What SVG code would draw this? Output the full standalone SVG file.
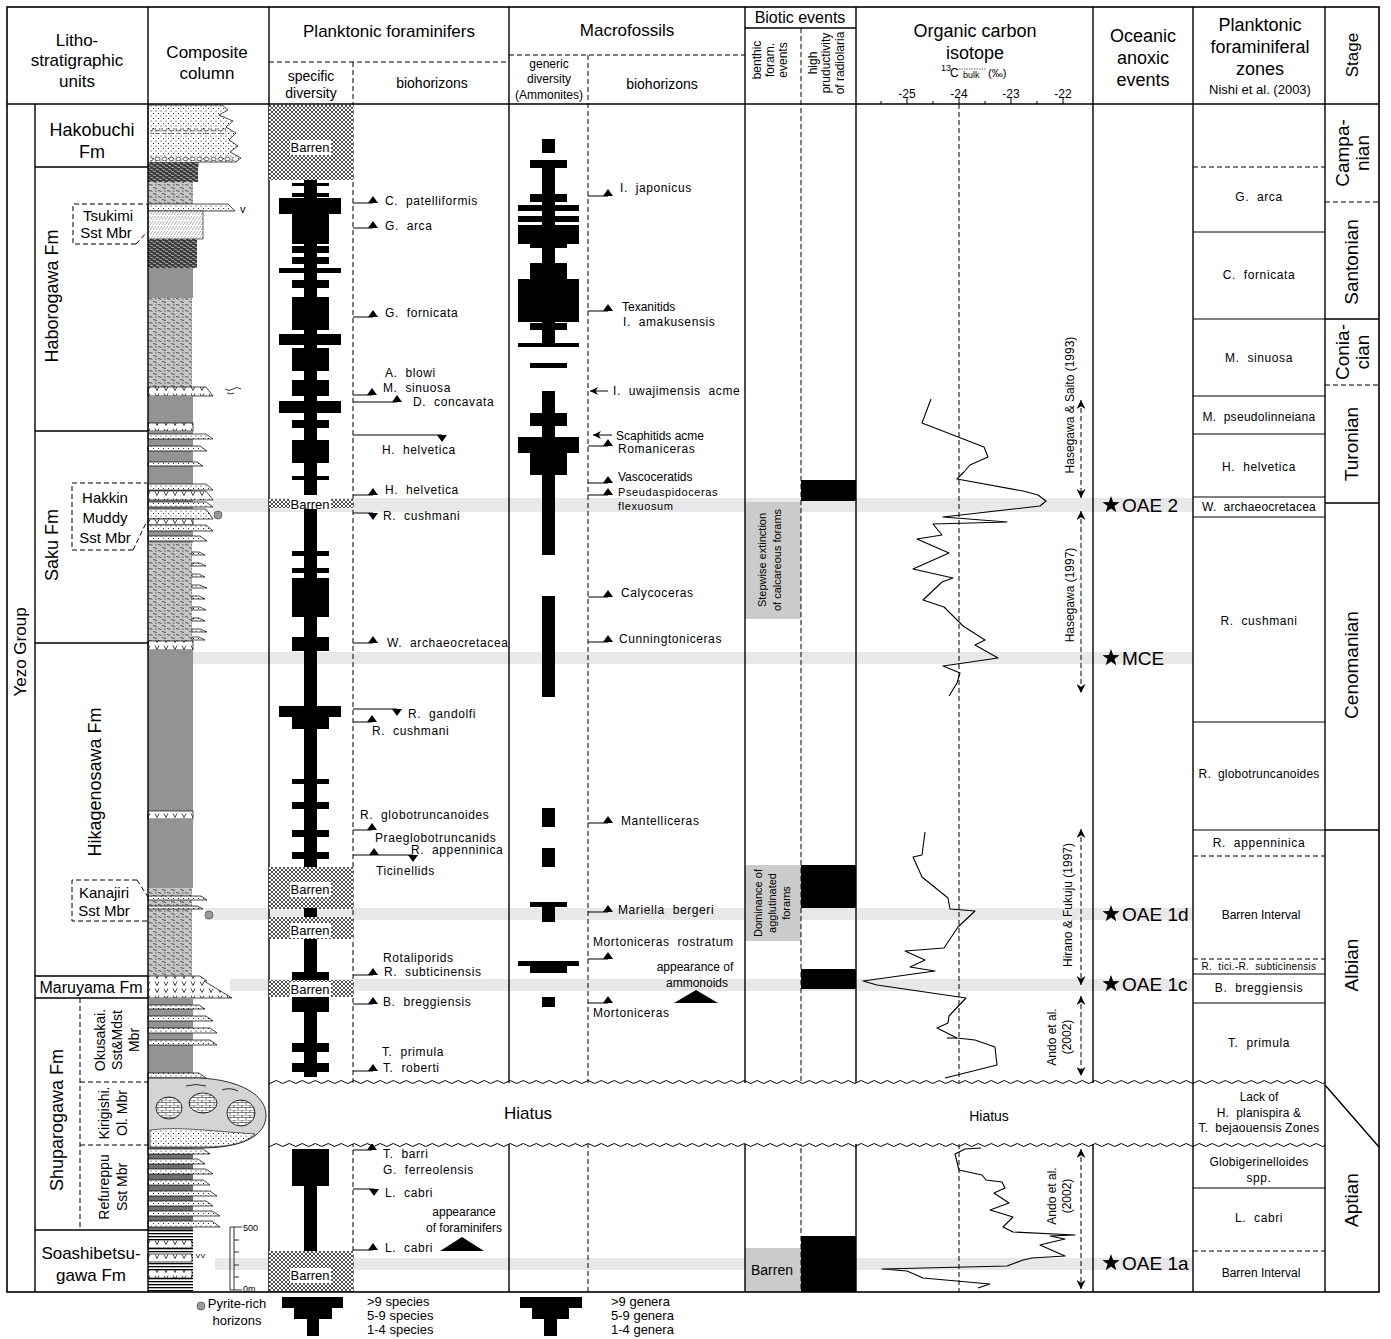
<svg xmlns="http://www.w3.org/2000/svg" width="1391" height="1339" viewBox="0 0 1391 1339" font-family="'Liberation Sans', Arial, sans-serif">
<style>
text{fill:#000;white-space:pre}
.h17{font-size:17px}.h18{font-size:18px}.h16{font-size:16px}.h14{font-size:14px}.h13{font-size:13px}.h12{font-size:12px}.h11{font-size:11px}.h19{font-size:19px}.h9{font-size:9px}
.m{text-anchor:middle}
.bh{font-size:12px;letter-spacing:0.6px}
.ln{stroke:#000;stroke-width:1.4;fill:none}
.thin{stroke:#000;stroke-width:1;fill:none}
.ds{stroke:#000;stroke-width:1;fill:none;stroke-dasharray:5 3}
.gr{fill:#939393}
.sm{fill:url(#sm)}
.dk{fill:url(#dk)}
.tg{fill:url(#dots);stroke:#000;stroke-width:0.7}
.tfp{fill:url(#tf);stroke:#000;stroke-width:0.7}
.band{fill:#e8e8e8}
.bar{fill:#000}
.xh{fill:url(#xh)}
.cv{fill:none;stroke:#000;stroke-width:1.1;stroke-linejoin:round}
.mk{stroke:#000;stroke-width:1;fill:none}
</style>
<defs>
<pattern id="dots" width="5" height="5" patternUnits="userSpaceOnUse"><rect width="5" height="5" fill="#fff"/><circle cx="1" cy="1" r="0.55" fill="#000"/><circle cx="3.5" cy="3.5" r="0.55" fill="#000"/></pattern>
<pattern id="sm" width="9" height="6" patternUnits="userSpaceOnUse"><rect width="9" height="6" fill="#c6c6c6"/><path d="M0,1.5 l4,1 M5,4.5 l3.5,0.8 M2,4.8 l1.5,0.4" stroke="#222" stroke-width="0.7"/></pattern>
<pattern id="dk" width="6" height="4" patternUnits="userSpaceOnUse"><rect width="6" height="4" fill="#3d3d3d"/><path d="M0,1 l3,1 M3,3 l3,0.8" stroke="#fff" stroke-width="0.6"/></pattern>
<pattern id="ls" width="6" height="5" patternUnits="userSpaceOnUse"><rect width="6" height="5" fill="#fff"/><path d="M0,5 l3,-4 M3,5 l3,-4" stroke="#555" stroke-width="0.5"/></pattern>
<pattern id="tf" width="9" height="7" patternUnits="userSpaceOnUse"><rect width="9" height="7" fill="#fff"/><path d="M2,1.5 L4,5.5 L6,1.5" fill="none" stroke="#000" stroke-width="0.7"/></pattern>
<pattern id="xh" width="4" height="4" patternUnits="userSpaceOnUse"><rect width="4" height="4" fill="#fff"/><path d="M0,0 L4,4 M4,0 L0,4" stroke="#222" stroke-width="0.8"/></pattern>
<pattern id="cg" width="7" height="6" patternUnits="userSpaceOnUse"><ellipse cx="3.5" cy="3" rx="2.6" ry="1.8" fill="#fff" stroke="#000" stroke-width="0.6"/></pattern>
<pattern id="hl" width="4" height="3" patternUnits="userSpaceOnUse"><rect width="4" height="3" fill="#fff"/><rect width="4" height="1.3" fill="#000"/></pattern>
<pattern id="brick" width="8" height="5" patternUnits="userSpaceOnUse"><rect width="8" height="5" fill="#fff"/><path d="M0,0 H8 M0,2.5 H8 M2,0 V2.5 M6,2.5 V5" stroke="#000" stroke-width="0.5"/></pattern>
<pattern id="wave" width="13" height="6" patternUnits="userSpaceOnUse"><path d="M0,3 Q3.25,0 6.5,3 T13,3" fill="none" stroke="#000" stroke-width="1"/></pattern>
<polygon id="tu" points="-5,0 5,0 0,-7" fill="#000"/>
<polygon id="td" points="-5,0 5,0 0,7" fill="#000"/>
<polygon id="star" points="0,-9 2.12,-2.91 8.56,-2.78 3.42,1.11 5.29,7.28 0,3.6 -5.29,7.28 -3.42,1.11 -8.56,-2.78 -2.12,-2.91" fill="#000"/>
<marker id="arr" viewBox="0 0 10 10" refX="10" refY="5" markerWidth="9" markerHeight="9" markerUnits="userSpaceOnUse" orient="auto-start-reverse"><path d="M0,0 L10,5 L0,10 L3,5 Z" fill="#000"/></marker>
<marker id="arr2" viewBox="0 0 10 10" refX="10" refY="5" markerWidth="8" markerHeight="8" markerUnits="userSpaceOnUse" orient="auto"><path d="M0,0 L10,5 L0,10 L3,5 Z" fill="#000"/></marker>
</defs>
<rect width="1391" height="1339" fill="#fff"/>

<g id="oae-bands">
<rect class="band" x="213" y="498" width="980" height="14"/>
<rect class="band" x="193" y="652" width="1000" height="12"/>
<rect class="band" x="205" y="908" width="988" height="12"/>
<rect class="band" x="230" y="979" width="963" height="12"/>
<rect class="band" x="215" y="1258" width="978" height="12"/>
</g>

<g id="composite-column">
<path class="tg" d="M148,105 H222 L228,110 L219,115 L233,121 L226,127 L236,133 L229,140 L238,146 L230,152 L241,158 L236,162 H198 V167 H148 Z"/>
<rect x="150" y="128" width="76" height="6" fill="url(#cg)"/>
<rect x="150" y="155" width="84" height="6" fill="url(#cg)"/>
<rect class="dk" x="148" y="162" width="50" height="20"/>
<rect class="sm" x="148" y="182" width="45" height="22"/>
<path class="tg" d="M148,204 H228 L235,211 H148 Z"/>
<text x="240" y="213" class="h11">v</text>
<rect x="148" y="211" width="55" height="28" fill="url(#ls)" stroke="#000" stroke-width="0.6"/>
<rect class="dk" x="148" y="239" width="49" height="29"/>
<rect class="gr" x="148" y="268" width="45" height="30"/>
<rect class="sm" x="148" y="298" width="44" height="89"/>
<path class="tfp" d="M148,387 H206 L213,396 H148 Z"/>
<path d="M225,389 q4,3 8,0 q4,-3 8,0 M227,393 q4,2 7,0" fill="none" stroke="#000" stroke-width="0.8"/>
<rect class="gr" x="148" y="396" width="45" height="27"/>
<rect class="tfp" x="148" y="423" width="45" height="8"/>
<rect class="gr" x="148" y="431" width="45" height="112"/>
<path class="tg" d="M148,434 H206 L213,439 H148 Z"/>
<path class="tg" d="M148,446 H200 L207,451 H148 Z"/>
<path class="tg" d="M148,462 H197 L203,466 H148 Z"/>
<path class="tg" d="M148,484 H206 L213,490 H148 Z"/>
<path class="tfp" d="M148,491 H206 L213,500 H148 Z"/>
<path class="tg" d="M148,502 H206 L213,507 H148 Z"/>
<path class="tg" d="M148,509 H206 L213,519 H148 Z"/>
<rect class="tfp" x="148" y="519" width="45" height="6"/>
<path class="tg" d="M148,525 H206 L213,531 H148 Z"/>
<path class="tg" d="M148,536 H200 L207,541 H148 Z"/>
<rect class="sm" x="148" y="543" width="44" height="98"/>
<path class="tg" d="M192,552 H199 L205,555 H192 Z M192,563 H200 L206,566 H192 Z M192,574 H199 L205,577 H192 Z M192,585 H200 L207,588 H192 Z M192,596 H199 L205,599 H192 Z M192,607 H200 L206,610 H192 Z M192,618 H199 L205,621 H192 Z M192,629 H200 L207,632 H192 Z M192,637 H199 L205,640 H192 Z"/>
<rect class="tfp" x="148" y="641" width="45" height="9"/>
<rect class="gr" x="148" y="650" width="45" height="161"/>
<rect class="tfp" x="148" y="811" width="45" height="8"/>
<rect class="gr" x="148" y="819" width="45" height="69"/>
<rect class="sm" x="148" y="888" width="44" height="88"/>
<path class="tg" d="M148,896 H201 L207,900 H148 Z"/>
<path class="tg" d="M148,906 H197 L203,909 H148 Z"/>
<path class="tfp" d="M148,976 H200 L207,981 H204 L232,998 H148 Z"/>
<rect class="gr" x="148" y="998" width="45" height="80"/>
<path class="tg" d="M148,1005 H199 L205,1009 H148 Z"/>
<path class="tg" d="M148,1016 H206 L213,1021 H148 Z"/>
<path class="tg" d="M148,1028 H210 L217,1033 H148 Z"/>
<path class="tg" d="M148,1040 H210 L217,1045 H148 Z"/>
<path class="tg" d="M148,1073 H199 L206,1078 H148 Z"/>
<path d="M148,1078 H200 C240,1080 266,1095 266,1115 C266,1135 245,1147 205,1148 H148 Z" fill="#d4d4d4" stroke="#000" stroke-width="0.8"/>
<path d="M150,1130 C180,1126 220,1132 255,1134 C245,1145 220,1147 205,1147 H150 Z" fill="url(#dots)" stroke="#000" stroke-width="0.6"/>
<ellipse cx="169" cy="1108" rx="13" ry="11" fill="url(#brick)" stroke="#000" stroke-width="0.8"/>
<ellipse cx="203" cy="1103" rx="14" ry="10" fill="url(#brick)" stroke="#000" stroke-width="0.8"/>
<ellipse cx="241" cy="1113" rx="14" ry="13" fill="url(#brick)" stroke="#000" stroke-width="0.8"/>
<path d="M186,1086 q10,-3 20,0 M222,1090 q8,-3 16,1" fill="none" stroke="#000" stroke-width="0.8"/>
<rect x="148" y="1148" width="45" height="82" fill="#6e6e6e"/>
<path class="tg" d="M148,1149 H203 L210,1154 H148 Z M148,1159 H198 L205,1164 H148 Z M148,1169 H206 L213,1174 H148 Z M148,1180 H203 L210,1185 H148 Z M148,1191 H210 L217,1196 H148 Z M148,1201 H206 L213,1206 H148 Z M148,1211 H212 L220,1216 H148 Z M148,1221 H212 L220,1227 H148 Z"/>
<rect x="148" y="1230" width="45" height="62" fill="url(#hl)"/>
<rect class="tfp" x="148" y="1240" width="44" height="8"/>
<rect class="tfp" x="148" y="1254" width="44" height="8"/>
<rect class="tfp" x="148" y="1270" width="44" height="8"/>
<path d="M196,1254 l2,4 l2,-4 M201,1254 l2,4 l2,-4" fill="none" stroke="#000" stroke-width="0.7"/>
<circle cx="218" cy="515" r="4" fill="#999" stroke="#555" stroke-width="0.8"/>
<circle cx="209" cy="915" r="4" fill="#999" stroke="#555" stroke-width="0.8"/>
<path d="M230,1227 V1290 M234,1227 V1290 M230,1227 H242 M234,1240 H239 M234,1252 H239 M234,1265 H239 M234,1277 H239 M230,1290 H242" stroke="#000" fill="none" stroke-width="0.8"/>
<text x="243" y="1231" class="h9">500</text>
<text x="243" y="1292" class="h9">0m</text>
</g>

<g id="biotic-boxes">
<rect x="745" y="502" width="56" height="117" fill="#cbcbcb"/>
<rect x="745" y="865" width="56" height="76" fill="#cbcbcb"/>
<rect x="745" y="1248" width="56" height="44" fill="#cbcbcb"/>
<rect x="801" y="480" width="55" height="21" fill="#000"/>
<rect x="801" y="865" width="55" height="43" fill="#000"/>
<rect x="801" y="969" width="55" height="20" fill="#000"/>
<rect x="801" y="1236" width="55" height="56" fill="#000"/>
<text class="h11 m" transform="translate(766,560) rotate(-90)">Stepwise extinction</text>
<text class="h11 m" transform="translate(781,560) rotate(-90)">of calcareous forams</text>
<text class="h11 m" transform="translate(762,903) rotate(-90)">Dominance of</text>
<text class="h11 m" transform="translate(776,903) rotate(-90)">agglutinated</text>
<text class="h11 m" transform="translate(790,903) rotate(-90)">forams</text>
<text class="h14 m" x="772" y="1275">Barren</text>
</g>

<g id="grid">
<line class="ln" x1="35" y1="104" x2="35" y2="1292"/>
<line class="ln" x1="148" y1="7" x2="148" y2="1292"/>
<line class="ln" x1="269" y1="7" x2="269" y2="1292"/>
<line class="ln" x1="509" y1="7" x2="509" y2="1292"/>
<line class="ln" x1="745" y1="7" x2="745" y2="1292"/>
<line class="ln" x1="856" y1="7" x2="856" y2="1292"/>
<line class="ln" x1="1093" y1="7" x2="1093" y2="1292"/>
<line class="ln" x1="1193" y1="7" x2="1193" y2="1292"/>
<line class="ln" x1="1325" y1="7" x2="1325" y2="1292"/>
<line class="ln" x1="7" y1="104" x2="1379" y2="104"/>
<line class="ds" x1="269" y1="62" x2="509" y2="62"/>
<line class="ds" x1="353" y1="62" x2="353" y2="1292"/>
<line class="ds" x1="509" y1="55" x2="745" y2="55"/>
<line class="ds" x1="588" y1="55" x2="588" y2="1292"/>
<line class="ln" x1="745" y1="28" x2="856" y2="28"/>
<line class="ds" x1="801" y1="28" x2="801" y2="1292"/>
<line class="ds" x1="959" y1="104" x2="959" y2="1292"/>
<path class="ln" d="M35,167 H148 M35,431 H148 M35,643 H148 M35,976 H148 M35,998 H148 M35,1230 H148"/>
<path class="ds" d="M80,998 V1230 M80,1082 H148 M80,1145 H148"/>
<path class="thin" d="M1193,232 H1325 M1193,319 H1325 M1193,396 H1325 M1193,434 H1325 M1193,497 H1325 M1193,517 H1325 M1193,722 H1325 M1193,830 H1325 M1193,974 H1325 M1193,1003 H1325 M1193,1188 H1325"/>
<path class="ds" d="M1193,167 H1325 M1193,856 H1325 M1193,959 H1325 M1193,1251 H1325"/>
<path class="ln" d="M1325,319 H1379 M1325,503 H1379 M1325,830 H1379 M1325,1085 L1379,1147"/>
<path class="ds" d="M1325,202 H1379 M1325,385 H1379"/>
<path class="thin" d="M881,104 v-3 M907,104 v-6 M933,104 v-3 M959,104 v-7 M985,104 v-3 M1011,104 v-6 M1037,104 v-3 M1063,104 v-6"/>
<path class="ds" d="M136,244 L147,232 M136,244 H73 V204 H147 M133,550 L147,521 M133,550 H72 V483 H147 M137,880 L148,897 M137,880 H72 V921 H147"/>
</g>

<g id="foram-diversity">
<rect class="xh" x="269" y="105" width="84" height="75"/>
<rect class="xh" x="269" y="499" width="84" height="9"/>
<rect class="xh" x="269" y="867" width="84" height="42"/>
<rect class="xh" x="269" y="917" width="84" height="22"/>
<rect class="xh" x="269" y="980" width="84" height="17"/>
<rect class="xh" x="269" y="1251" width="84" height="41"/>
<rect fill="#fff" x="290" y="140" width="41" height="15"/>
<rect fill="#fff" x="290" y="498" width="41" height="12"/>
<rect fill="#fff" x="290" y="882" width="41" height="15"/>
<rect fill="#fff" x="290" y="923" width="41" height="15"/>
<rect fill="#fff" x="290" y="982" width="41" height="15"/>
<rect fill="#fff" x="290" y="1268" width="41" height="15"/>
<text class="h13 m" x="310" y="152">Barren</text>
<text class="h13 m" x="310" y="509">Barren</text>
<text class="h13 m" x="310" y="894">Barren</text>
<text class="h13 m" x="310" y="935">Barren</text>
<text class="h13 m" x="310" y="994">Barren</text>
<text class="h13 m" x="310" y="1280">Barren</text>
<g class="bar">
<rect x="304" y="180" width="13" height="315"/><rect x="304" y="509" width="13" height="358"/><rect x="304" y="908" width="13" height="9"/><rect x="304" y="939" width="13" height="33"/><rect x="304" y="997" width="13" height="80"/><rect x="304" y="1186" width="13" height="65"/>
<rect x="292" y="183" width="37" height="3"/><rect x="292" y="193" width="37" height="4"/><rect x="292" y="214" width="37" height="30"/><rect x="292" y="246" width="37" height="7"/><rect x="292" y="257" width="37" height="7"/><rect x="292" y="280" width="37" height="8"/><rect x="292" y="297" width="37" height="33"/><rect x="292" y="348" width="37" height="23"/><rect x="292" y="380" width="37" height="16"/><rect x="292" y="420" width="37" height="8"/><rect x="292" y="440" width="37" height="23"/><rect x="292" y="476" width="37" height="4"/><rect x="292" y="551" width="37" height="5"/><rect x="292" y="568" width="37" height="5"/><rect x="292" y="578" width="37" height="39"/><rect x="292" y="637" width="37" height="14"/><rect x="292" y="717" width="37" height="12"/><rect x="292" y="779" width="37" height="5"/><rect x="292" y="802" width="37" height="7"/><rect x="292" y="830" width="37" height="7"/><rect x="292" y="852" width="37" height="7"/><rect x="292" y="972" width="37" height="8"/><rect x="292" y="997" width="37" height="15"/><rect x="292" y="1043" width="37" height="9"/><rect x="292" y="1063" width="37" height="9"/><rect x="292" y="1149" width="37" height="37"/>
<rect x="279" y="198" width="62" height="16"/><rect x="279" y="268" width="62" height="5"/><rect x="279" y="334" width="62" height="11"/><rect x="279" y="401" width="62" height="12"/><rect x="279" y="706" width="62" height="11"/>
</g>
</g>

<g id="macro-diversity" class="bar">
<rect x="542" y="139" width="13" height="14"/><rect x="542" y="160" width="13" height="183"/><rect x="542" y="391" width="13" height="164"/><rect x="542" y="596" width="13" height="101"/><rect x="542" y="808" width="13" height="19"/><rect x="542" y="848" width="13" height="19"/><rect x="542" y="907" width="13" height="15"/><rect x="542" y="997" width="13" height="10"/>
<rect x="530" y="160" width="37" height="8"/><rect x="530" y="194" width="37" height="8"/><rect x="530" y="244" width="37" height="4"/><rect x="530" y="263" width="37" height="16"/><rect x="530" y="323" width="37" height="7"/><rect x="530" y="363" width="37" height="5"/><rect x="530" y="413" width="37" height="13"/><rect x="530" y="453" width="37" height="22"/><rect x="530" y="902" width="37" height="5"/><rect x="530" y="966" width="37" height="7"/>
<rect x="518" y="205" width="61" height="6"/><rect x="518" y="216" width="61" height="6"/><rect x="518" y="225" width="61" height="19"/><rect x="518" y="279" width="61" height="43"/><rect x="518" y="343" width="61" height="4"/><rect x="518" y="437" width="61" height="16"/><rect x="518" y="961" width="61" height="5"/>
</g>

<g id="isotope-curve">
<polyline class="cv" points="931,399 922,423 984,447 988,457 970,465 964,472 957,479 1023,491 1038,495 1046,501 1040,506 943,517 1007,522 933,524 942,535 917,539 949,553 913,569 953,578 942,582 923,600 944,607 963,626 985,640 975,645 998,658 943,666 960,673 957,683 949,696"/>
<polyline class="cv" points="925,832 922,855 913,857 922,877 948,898 950,909 975,911 958,927 944,948 905,951 925,960 910,967 935,971 863,981 877,985 966,998 949,1016 948,1023 937,1028 957,1038 975,1040 995,1047 997,1065 945,1078"/>
<line class="cv" x1="947" y1="1038" x2="957" y2="1038"/>
<polyline class="cv" points="981,1148 965,1149 955,1154 959,1170 982,1175 986,1180 1002,1182 1005,1188 994,1193 1009,1203 990,1210 1013,1217 1003,1227 1013,1232 1075,1235 1050,1236 1065,1239 1048,1243 1040,1245 1065,1256 1032,1258 1023,1260 1007,1266 882,1269 907,1271 923,1278 990,1284 978,1288"/>
</g>

<g id="connectors">
<g class="mk">
<path d="M353,203 H373 M353,228 H373 M353,317 H373 M353,395 H372 M353,402 H397 M353,435 H442 M353,495 H373 M353,513 H373 M353,643 H373 M353,709 H397 M353,722 H372 M353,830 H372 M353,855 H413 M353,975 H373 M353,1004 H373 M353,1071 H373 M353,1150 H372 M353,1189 H374 M353,1250 H373"/>
<path d="M588,196 H608 M588,311 H608 M588,446 H608 M588,483 H608 M588,495 H608 M588,597 H608 M588,642 H608 M588,823 H608 M588,912 H608 M588,959 H608 M588,1003 H608"/>
</g>
<use href="#tu" x="373" y="203"/><use href="#tu" x="373" y="228"/><use href="#tu" x="373" y="317"/><use href="#tu" x="372" y="395"/><use href="#tu" x="397" y="402"/><use href="#td" x="442" y="435"/><use href="#tu" x="373" y="495"/><use href="#td" x="373" y="513"/><use href="#tu" x="373" y="643"/><use href="#td" x="397" y="709"/><use href="#tu" x="372" y="722"/><use href="#tu" x="372" y="830"/><use href="#tu" x="374" y="855"/><use href="#td" x="413" y="855"/><use href="#tu" x="373" y="975"/><use href="#tu" x="373" y="1004"/><use href="#tu" x="373" y="1071"/><use href="#tu" x="372" y="1150"/><use href="#td" x="374" y="1189"/><use href="#tu" x="373" y="1250"/>
<use href="#tu" x="608" y="196"/><use href="#tu" x="608" y="311"/><use href="#tu" x="608" y="446"/><use href="#tu" x="608" y="483"/><use href="#tu" x="608" y="495"/><use href="#tu" x="608" y="597"/><use href="#tu" x="608" y="642"/><use href="#tu" x="608" y="823"/><use href="#tu" x="608" y="912"/><use href="#tu" x="608" y="959"/><use href="#tu" x="608" y="1003"/>
<polygon points="440,1251 484,1251 462,1237" fill="#000"/>
<polygon points="674,1003 718,1003 696,990" fill="#000"/>
<line class="mk" x1="608" y1="391" x2="590" y2="391" marker-end="url(#arr2)"/>
<line class="mk" x1="612" y1="435" x2="593" y2="435" marker-end="url(#arr2)"/>
<g class="ds">
<line x1="1081" y1="400" x2="1081" y2="498" marker-start="url(#arr)" marker-end="url(#arr)"/>
<line x1="1081" y1="511" x2="1081" y2="693" marker-start="url(#arr)" marker-end="url(#arr)"/>
<line x1="1081" y1="829" x2="1081" y2="985" marker-start="url(#arr)" marker-end="url(#arr)"/>
<line x1="1081" y1="996" x2="1081" y2="1076" marker-start="url(#arr)" marker-end="url(#arr)"/>
<line x1="1081" y1="1149" x2="1081" y2="1289" marker-start="url(#arr)" marker-end="url(#arr)"/>
</g>
</g>

<g id="hiatus">
<rect x="270" y="1083" width="922" height="61" fill="#fff"/>
<g transform="translate(0,1079)"><rect x="269" y="0" width="1056" height="6" fill="url(#wave)"/></g>
<g transform="translate(0,1142)"><rect x="269" y="0" width="1056" height="6" fill="url(#wave)"/></g>
<text class="h17 m" x="528" y="1119">Hiatus</text>
<text class="h14 m" x="989" y="1121">Hiatus</text>
</g>

<g id="outer-frame">
<rect x="7" y="7" width="1372" height="1285" fill="none" stroke="#000" stroke-width="1.6"/>
</g>

<g id="header">
<text class="h17 m" x="77" y="46">Litho-</text>
<text class="h17 m" x="77" y="66">stratigraphic</text>
<text class="h17 m" x="77" y="87">units</text>
<text class="h17 m" x="207" y="58">Composite</text>
<text class="h17 m" x="207" y="79">column</text>
<text class="h17 m" x="389" y="37">Planktonic foraminifers</text>
<text class="h14 m" x="311" y="81">specific</text>
<text class="h14 m" x="311" y="98">diversity</text>
<text class="h14 m" x="432" y="88">biohorizons</text>
<text class="h17 m" x="627" y="36">Macrofossils</text>
<text class="h12 m" x="549" y="68">generic</text>
<text class="h12 m" x="549" y="83">diversity</text>
<text class="h12 m" x="549" y="99">(Ammonites)</text>
<text class="h14 m" x="662" y="89">biohorizons</text>
<text class="h16 m" x="800" y="23">Biotic events</text>
<text class="h12 m" transform="translate(761,60) rotate(-90)">benthic</text>
<text class="h12 m" transform="translate(774,60) rotate(-90)">foram.</text>
<text class="h12 m" transform="translate(787,60) rotate(-90)">events</text>
<text class="h12 m" transform="translate(817,63) rotate(-90)">high</text>
<text class="h12 m" transform="translate(830,63) rotate(-90)">pruductivity</text>
<text class="h12 m" transform="translate(844,63) rotate(-90)">of radiolaria</text>
<text class="h18 m" x="975" y="37">Organic carbon</text>
<text class="h18 m" x="975" y="59">isotope</text>
<text class="h9" x="941" y="71">13</text>
<text class="h12" x="950" y="77">C</text>
<text class="h9" x="963" y="78">bulk</text>
<path d="M959,69 H986" stroke="#000" stroke-width="0.6" stroke-dasharray="1.5 1"/>
<text class="h11" x="988" y="77">(‰)</text>
<text class="h12 m" x="907" y="98">-25</text>
<text class="h12 m" x="959" y="98">-24</text>
<text class="h12 m" x="1011" y="98">-23</text>
<text class="h12 m" x="1063" y="98">-22</text>
<text class="h18 m" x="1143" y="42">Oceanic</text>
<text class="h18 m" x="1143" y="64">anoxic</text>
<text class="h18 m" x="1143" y="86">events</text>
<text class="h18 m" x="1260" y="31">Planktonic</text>
<text class="h18 m" x="1260" y="53">foraminiferal</text>
<text class="h18 m" x="1260" y="75">zones</text>
<text class="h13 m" x="1260" y="94">Nishi et al. (2003)</text>
<text class="h17 m" transform="translate(1358,55) rotate(-90)">Stage</text>
</g>

<g id="litho-units">
<text class="h17 m" transform="translate(26,652) rotate(-90)">Yezo Group</text>
<text class="h18 m" x="92" y="136">Hakobuchi</text>
<text class="h18 m" x="92" y="158">Fm</text>
<text class="h18 m" transform="translate(58,296) rotate(-90)">Haborogawa Fm</text>
<text class="m" x="108" y="221" style="font-size:15px">Tsukimi</text>
<text class="m" x="106" y="238" style="font-size:15px">Sst Mbr</text>
<text class="h18 m" transform="translate(58,545) rotate(-90)">Saku Fm</text>
<text class="m" x="105" y="503" style="font-size:15px">Hakkin</text>
<text class="m" x="105" y="523" style="font-size:15px">Muddy</text>
<text class="m" x="105" y="543" style="font-size:15px">Sst Mbr</text>
<text class="h18 m" transform="translate(101,782) rotate(-90)">Hikagenosawa Fm</text>
<text class="m" x="104" y="898" style="font-size:15px">Kanajiri</text>
<text class="m" x="104" y="916" style="font-size:15px">Sst Mbr</text>
<text class="m" x="91" y="993" style="font-size:16px">Maruyama Fm</text>
<text class="h18 m" transform="translate(63,1120) rotate(-90)">Shuparogawa Fm</text>
<text class="m" transform="translate(105,1040) rotate(-90)" style="font-size:14px">Okusakai.</text>
<text class="m" transform="translate(122,1040) rotate(-90)" style="font-size:14px">Sst&amp;Mdst</text>
<text class="m" transform="translate(139,1040) rotate(-90)" style="font-size:14px">Mbr</text>
<text class="m" transform="translate(109,1113) rotate(-90)" style="font-size:14px">Kirigishi.</text>
<text class="m" transform="translate(127,1113) rotate(-90)" style="font-size:14px">Ol. Mbr</text>
<text class="m" transform="translate(109,1187) rotate(-90)" style="font-size:14px">Refureppu</text>
<text class="m" transform="translate(127,1187) rotate(-90)" style="font-size:14px">Sst Mbr</text>
<text class="h17 m" x="91" y="1259">Soashibetsu-</text>
<text class="h17 m" x="91" y="1281">gawa Fm</text>
</g>

<g id="foram-biohorizons" class="bh">
<text x="385" y="205">C.  patelliformis</text>
<text x="385" y="230">G.  arca</text>
<text x="385" y="317">G.  fornicata</text>
<text x="385" y="377">A.  blowi</text>
<text x="383" y="392">M.  sinuosa</text>
<text x="413" y="406">D.  concavata</text>
<text x="382" y="454">H.  helvetica</text>
<text x="385" y="494">H.  helvetica</text>
<text x="383" y="520">R.  cushmani</text>
<text x="387" y="647">W.  archaeocretacea</text>
<text x="408" y="718">R.  gandolfi</text>
<text x="372" y="735">R.  cushmani</text>
<text x="360" y="819">R.  globotruncanoides</text>
<text x="375" y="842">Praeglobotruncanids</text>
<text x="411" y="854">R.  appenninica</text>
<text x="376" y="875">Ticinellids</text>
<text x="383" y="962">Rotaliporids</text>
<text x="384" y="976">R.  subticinensis</text>
<text x="383" y="1006">B.  breggiensis</text>
<text x="382" y="1056">T.  primula</text>
<text x="383" y="1072">T.  roberti</text>
<text x="383" y="1158">T.  barri</text>
<text x="383" y="1174">G.  ferreolensis</text>
<text x="385" y="1197">L.  cabri</text>
<text x="464" y="1216" class="m" style="letter-spacing:0">appearance</text>
<text x="464" y="1232" class="m" style="letter-spacing:0">of foraminifers</text>
<text x="385" y="1252">L.  cabri</text>
</g>

<g id="macro-biohorizons" class="bh">
<text x="620" y="192">I.  japonicus</text>
<text x="622" y="311" style="letter-spacing:0">Texanitids</text>
<text x="623" y="326">I.  amakusensis</text>
<text x="613" y="395">I.  uwajimensis  acme</text>
<text x="616" y="440" style="letter-spacing:0">Scaphitids acme</text>
<text x="618" y="453">Romaniceras</text>
<text x="618" y="481" style="letter-spacing:0">Vascoceratids</text>
<text x="618" y="496" style="font-size:11px">Pseudaspidoceras</text>
<text x="618" y="510" style="font-size:11px">flexuosum</text>
<text x="621" y="597">Calycoceras</text>
<text x="619" y="643">Cunningtoniceras</text>
<text x="621" y="825">Mantelliceras</text>
<text x="618" y="914">Mariella  bergeri</text>
<text x="593" y="946">Mortoniceras  rostratum</text>
<text x="695" y="971" class="m" style="letter-spacing:0">appearance of</text>
<text x="697" y="987" class="m" style="letter-spacing:0">ammonoids</text>
<text x="593" y="1017">Mortoniceras</text>
</g>

<g id="references">
<text class="h12 m" transform="translate(1074,405) rotate(-90)">Hasegawa &amp; Saito (1993)</text>
<text class="h12 m" transform="translate(1074,595) rotate(-90)">Hasegawa (1997)</text>
<text class="h12 m" transform="translate(1072,905) rotate(-90)">Hirano &amp; Fukuju (1997)</text>
<text class="h12 m" transform="translate(1056,1037) rotate(-90)">Ando et al.</text>
<text class="h12 m" transform="translate(1071,1037) rotate(-90)">(2002)</text>
<text class="h12 m" transform="translate(1056,1196) rotate(-90)">Ando et al.</text>
<text class="h12 m" transform="translate(1071,1196) rotate(-90)">(2002)</text>
</g>

<g id="oae-events">
<use href="#star" x="1111" y="505"/><text class="h19" x="1122" y="512">OAE 2</text>
<use href="#star" x="1111" y="658"/><text class="h19" x="1122" y="665">MCE</text>
<use href="#star" x="1111" y="914"/><text class="h19" x="1122" y="921">OAE 1d</text>
<use href="#star" x="1111" y="984"/><text class="h19" x="1122" y="991">OAE 1c</text>
<use href="#star" x="1111" y="1263"/><text class="h19" x="1122" y="1270">OAE 1a</text>
</g>

<g id="zones" class="bh">
<text class="m" x="1259" y="201">G.  arca</text>
<text class="m" x="1259" y="279">C.  fornicata</text>
<text class="m" x="1259" y="362">M.  sinuosa</text>
<text class="m" x="1259" y="421" style="letter-spacing:0.3px">M.  pseudolinneiana</text>
<text class="m" x="1259" y="471">H.  helvetica</text>
<text class="m" x="1259" y="511" style="letter-spacing:0.2px">W.  archaeocretacea</text>
<text class="m" x="1259" y="625">R.  cushmani</text>
<text class="m" x="1259" y="778" style="letter-spacing:0.2px">R.  globotruncanoides</text>
<text class="m" x="1259" y="847">R.  appenninica</text>
<text class="m" x="1261" y="919" style="letter-spacing:0">Barren Interval</text>
<text class="m" x="1259" y="970" style="font-size:10px;letter-spacing:0.3px">R.  tici.-R.  subticinensis</text>
<text class="m" x="1259" y="992">B.  breggiensis</text>
<text class="m" x="1259" y="1047">T.  primula</text>
<text class="m" x="1259" y="1101" style="letter-spacing:0">Lack of</text>
<text class="m" x="1259" y="1117" style="letter-spacing:0.2px">H.  planispira &amp;</text>
<text class="m" x="1259" y="1132" style="letter-spacing:0.2px">T.  bejaouensis Zones</text>
<text class="m" x="1259" y="1166" style="letter-spacing:0.2px">Globigerinelloides</text>
<text class="m" x="1259" y="1182">spp.</text>
<text class="m" x="1259" y="1222">L.  cabri</text>
<text class="m" x="1261" y="1277" style="letter-spacing:0">Barren Interval</text>
</g>

<g id="stages">
<text class="h19 m" transform="translate(1349,153) rotate(-90)">Campa-</text>
<text class="h19 m" transform="translate(1369,153) rotate(-90)">nian</text>
<text class="h19 m" transform="translate(1358,262) rotate(-90)">Santonian</text>
<text class="h19 m" transform="translate(1349,352) rotate(-90)">Conia-</text>
<text class="h19 m" transform="translate(1369,352) rotate(-90)">cian</text>
<text class="h19 m" transform="translate(1358,444) rotate(-90)">Turonian</text>
<text class="h19 m" transform="translate(1358,665) rotate(-90)">Cenomanian</text>
<text class="h19 m" transform="translate(1358,965) rotate(-90)">Albian</text>
<text class="h19 m" transform="translate(1358,1200) rotate(-90)">Aptian</text>
</g>

<g id="legend">
<circle cx="201" cy="1306" r="4" fill="#999" stroke="#555" stroke-width="0.8"/>
<text class="h13 m" x="237" y="1308">Pyrite-rich</text>
<text class="h13 m" x="237" y="1325">horizons</text>
<rect x="282" y="1297" width="61" height="11" fill="#000"/><rect x="294" y="1308" width="38" height="11" fill="#000"/><rect x="307" y="1319" width="12" height="17" fill="#000"/>
<text class="h13" x="367" y="1306">&gt;9 species</text>
<text class="h13" x="367" y="1320">5-9 species</text>
<text class="h13" x="367" y="1334">1-4 species</text>
<rect x="520" y="1297" width="62" height="11" fill="#000"/><rect x="532" y="1308" width="37" height="11" fill="#000"/><rect x="544" y="1319" width="13" height="17" fill="#000"/>
<text class="h13" x="611" y="1306">&gt;9 genera</text>
<text class="h13" x="611" y="1320">5-9 genera</text>
<text class="h13" x="611" y="1334">1-4 genera</text>
</g>
</svg>
